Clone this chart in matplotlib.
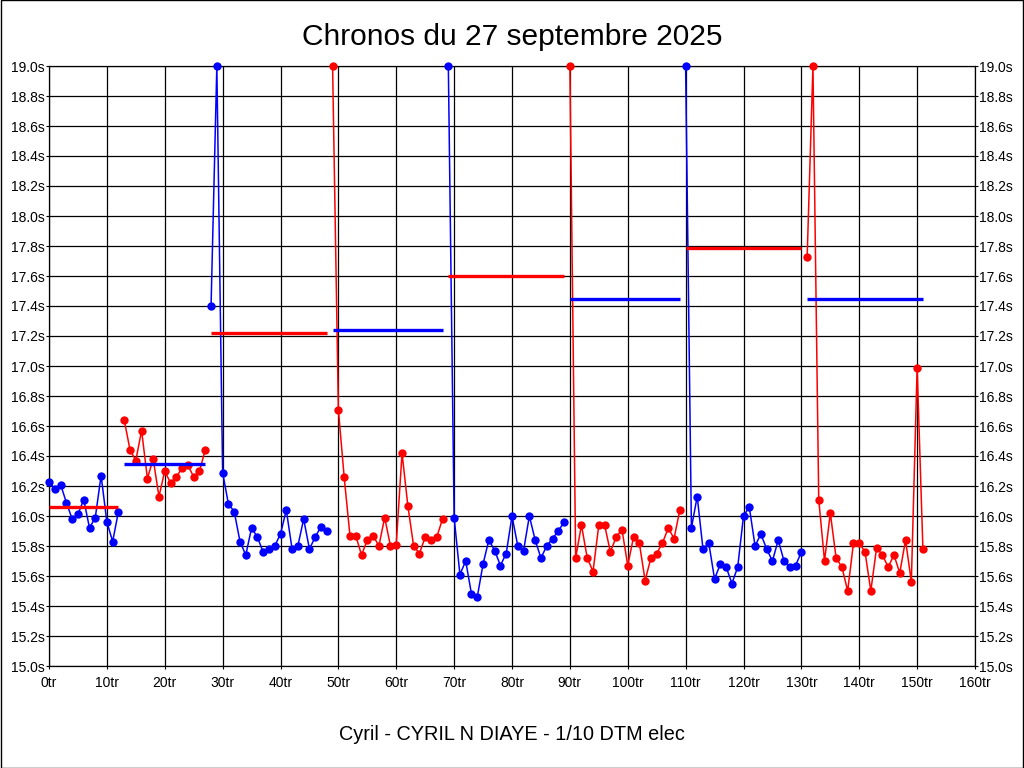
import matplotlib
matplotlib.use("Agg")
import matplotlib.pyplot as plt
from matplotlib.patches import Rectangle
from matplotlib.ticker import MultipleLocator, FuncFormatter

plt.rcParams['font.family'] = ['Liberation Sans', 'DejaVu Sans']

# ---- data (lap times in seconds, values above 19.0 shown clipped at 19.0) ----
stint_start = [0, 13, 28, 49, 69, 90, 110, 131]
stint_color = ['#0000ff', '#ff0000', '#0000ff', '#ff0000',
               '#0000ff', '#ff0000', '#0000ff', '#ff0000']
avg_color = ['#ff0000', '#0000ff', '#ff0000', '#0000ff',
             '#ff0000', '#0000ff', '#ff0000', '#0000ff']

stint1 = [16.23, 16.18, 16.21, 16.09, 15.98, 16.01, 16.11, 15.92, 15.99, 16.27,
          15.96, 15.83, 16.03]
stint2 = [16.64, 16.44, 16.37, 16.57, 16.25, 16.38, 16.13, 16.30, 16.22, 16.26,
          16.32, 16.34, 16.26, 16.30, 16.44]
stint3 = [17.40, 19.0, 16.29, 16.08, 16.03, 15.83, 15.74, 15.92, 15.86, 15.76,
          15.78, 15.80, 15.88, 16.04, 15.78, 15.80, 15.98, 15.78, 15.86, 15.93,
          15.90]
stint4 = [19.0, 16.71, 16.26, 15.87, 15.87, 15.74, 15.84, 15.87, 15.80, 15.99,
          15.80, 15.81, 16.42, 16.07, 15.80, 15.75, 15.86, 15.84, 15.86, 15.98]
stint5 = [19.0, 15.99, 15.61, 15.70, 15.48, 15.46, 15.68, 15.84, 15.77, 15.67,
          15.75, 16.00, 15.80, 15.77, 16.00, 15.84, 15.72, 15.80, 15.85, 15.90,
          15.96]
stint6 = [19.0, 15.72, 15.94, 15.72, 15.63, 15.94, 15.94, 15.76, 15.86, 15.91,
          15.67, 15.86, 15.82, 15.57, 15.72, 15.75, 15.82, 15.92, 15.85, 16.04]
stint7 = [19.0, 15.92, 16.13, 15.78, 15.82, 15.58, 15.68, 15.66, 15.55, 15.66,
          16.00, 16.06, 15.80, 15.88, 15.78, 15.70, 15.84, 15.70, 15.66, 15.67,
          15.76]
stint8 = [17.73, 19.0, 16.11, 15.70, 16.02, 15.72, 15.66, 15.50, 15.82, 15.82,
          15.76, 15.50, 15.79, 15.74, 15.66, 15.74, 15.62, 15.84, 15.56, 16.99,
          15.78]
stints = [stint1, stint2, stint3, stint4, stint5, stint6, stint7, stint8]

# stint averages
stint_avg = [16.06, 16.35, 17.22, 17.24, 17.60, 17.45, 17.79, 17.45]

title = "Chronos du 27 septembre 2025"
subtitle = "Cyril - CYRIL N DIAYE - 1/10 DTM elec"

# ---- figure ----
fig = plt.figure(figsize=(10.24, 7.68), dpi=100)
fig.patch.set_facecolor('white')
fig.patches.append(Rectangle((0.0005, 0.0005), 0.999, 0.999, transform=fig.transFigure,
                             fill=False, edgecolor='black', linewidth=1.0))

ax = fig.add_axes([49 / 1024, 1 - 666 / 768, (975 - 49) / 1024, 600 / 768])
ax.set_xlim(0, 160)
ax.set_ylim(15.0, 19.0)

ax.xaxis.set_major_locator(MultipleLocator(10))
ax.yaxis.set_major_locator(MultipleLocator(0.2))
ax.xaxis.set_major_formatter(FuncFormatter(lambda v, p: f"{int(round(v))}tr"))
ax.yaxis.set_major_formatter(FuncFormatter(lambda v, p: f"{v:.1f}s"))
ax.grid(True, color='black', linewidth=0.9)
ax.set_axisbelow(True)
ax.tick_params(axis='both', labelsize=10, length=2.2, width=0.8, color='black',
               direction='out')
ax.tick_params(axis='y', right=True, labelright=True, pad=1)
ax.tick_params(axis='x', pad=5)
for s in ax.spines.values():
    s.set_color('black')
    s.set_linewidth(0.9)

for start, vals, col, avg, acol in zip(stint_start, stints, stint_color,
                                         stint_avg, avg_color):
    laps = list(range(start, start + len(vals)))
    ax.plot(laps, vals, color=col, linewidth=1.1, marker='o', markersize=6,
            markeredgewidth=0, clip_on=False, zorder=3)
    ax.plot([laps[0], laps[-1]], [avg, avg], color=acol, linewidth=2.4,
            solid_capstyle='butt', zorder=4)

fig.text(0.5, 1 - 37 / 768, title, ha='center', va='center', fontsize=21.5)
fig.text(0.5, 1 - 735 / 768, subtitle, ha='center', va='center', fontsize=14.3)

fig.savefig("out.png", dpi=100)
